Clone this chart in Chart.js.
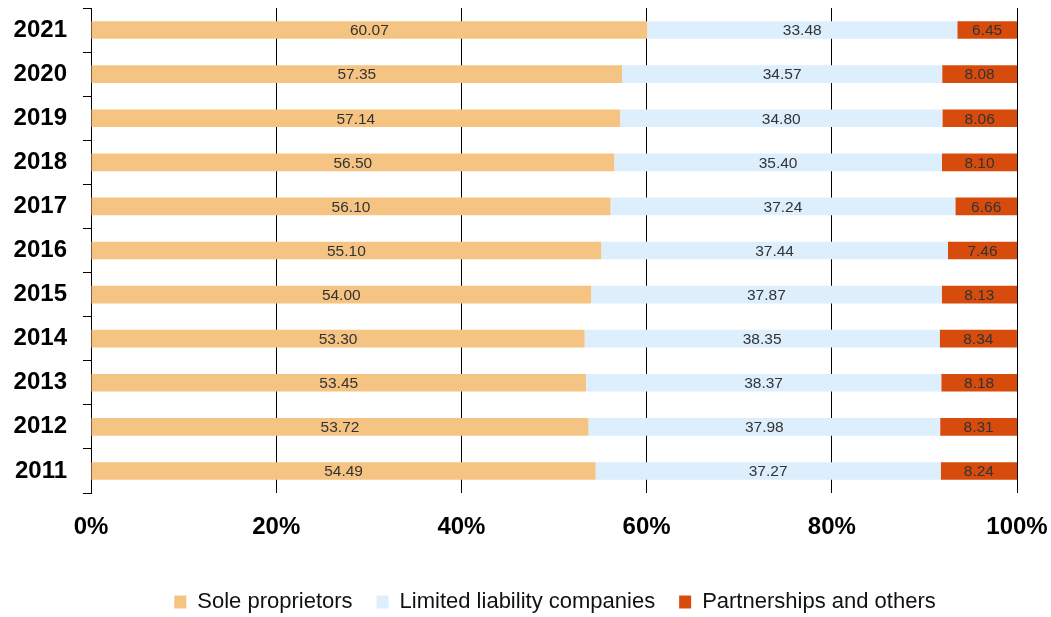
<!DOCTYPE html>
<html>
<head>
<meta charset="utf-8">
<script src="https://cdn.jsdelivr.net/npm/chart.js@4"></script>
<style>
  html, body { margin: 0; padding: 0; background: #fff; }
  #wrap { width: 1051px; height: 617px; }
</style>
</head>
<body>
<div id="wrap"><canvas id="shareChart"></canvas></div>
<script>
// Share of enterprises by legal form (%)
const years = ['2021', '2020', '2019', '2018', '2017', '2016', '2015', '2014', '2013', '2012', '2011'];
const soleProprietors = [60.07, 57.35, 57.14, 56.50, 56.10, 55.10, 54.00, 53.30, 53.45, 53.72, 54.49];
const limitedLiability = [33.48, 34.57, 34.80, 35.40, 37.24, 37.44, 37.87, 38.35, 38.37, 37.98, 37.27];
const partnerships = [6.45, 8.08, 8.06, 8.10, 6.66, 7.46, 8.13, 8.34, 8.18, 8.31, 8.24];
const xTicks = [0, 20, 40, 60, 80, 100];

const FONT = '"Liberation Sans", Arial, sans-serif';

// draws the value in the middle of every bar segment
const barValues = {
    id: 'barValues',
    afterDatasetsDraw(chart) {
        const ctx = chart.ctx;
        ctx.save();
        ctx.font = '15.5px ' + FONT;
        ctx.fillStyle = '#333333';
        ctx.textAlign = 'center';
        ctx.textBaseline = 'middle';
        chart.data.datasets.forEach((ds, i) => {
            chart.getDatasetMeta(i).data.forEach((bar, j) => {
                const p = bar.getCenterPoint();
                ctx.fillText(ds.data[j].toFixed(2), p.x, p.y + 1);
            });
        });
        ctx.restore();
    }
};

// the legend sits a bit right of the canvas centre in the original
const legendShift = {
    id: 'legendShift',
    afterLayout(chart) {
        if (chart.legend) {
            chart.legend.left += 40;
            chart.legend.right += 40;
        }
    }
};

const shareCtx = document.getElementById('shareChart').getContext('2d');
const shareChart = new Chart(shareCtx, {
    type: 'bar',
    data: {
        labels: years,
        datasets: [{
            label: 'Sole proprietors',
            data: soleProprietors,
            backgroundColor: '#F5C482'
        }, {
            label: 'Limited liability companies',
            data: limitedLiability,
            backgroundColor: '#DDEEFC'
        }, {
            label: 'Partnerships and others',
            data: partnerships,
            backgroundColor: '#D74C0D'
        }]
    },
    options: {
        indexAxis: 'y',
        responsive: true,
        maintainAspectRatio: false,
        animation: false,
        layout: {
            padding: { top: 8, left: 13, right: 34, bottom: -6 }
        },
        datasets: {
            bar: {
                barPercentage: 0.4,
                categoryPercentage: 1.0
            }
        },
        plugins: {
            tooltip: { enabled: false },
            legend: {
                display: true,
                position: 'bottom',
                labels: {
                    boxWidth: 12,
                    boxHeight: 13,
                    padding: 24,
                    color: '#111',
                    font: { family: FONT, size: 22 }
                }
            }
        },
        scales: {
            x: {
                stacked: true,
                min: 0,
                max: 100,
                afterBuildTicks(axis) {
                    axis.ticks = xTicks.map(v => ({ value: v }));
                },
                afterFit(axis) {
                    axis.height = 74;
                    axis.paddingLeft = 0;
                    axis.paddingRight = 0;
                },
                grid: {
                    color: '#000',
                    lineWidth: 1,
                    drawTicks: false
                },
                border: { display: false },
                ticks: {
                    padding: 20,
                    color: '#000',
                    font: { family: FONT, size: 24, weight: 'bold' },
                    callback: v => v + '%'
                }
            },
            y: {
                stacked: true,
                afterFit(axis) {
                    axis.width = 78;
                    axis.paddingTop = 0;
                    axis.paddingBottom = 0;
                },
                grid: {
                    offset: true,
                    drawOnChartArea: false,
                    drawTicks: true,
                    tickLength: 8,
                    color: '#000'
                },
                border: { display: true, color: '#000', width: 1 },
                ticks: {
                    padding: 16,
                    color: '#000',
                    font: { family: FONT, size: 24, weight: 'bold' }
                }
            }
        }
    },
    plugins: [barValues, legendShift]
});
</script>
</body>
</html>
